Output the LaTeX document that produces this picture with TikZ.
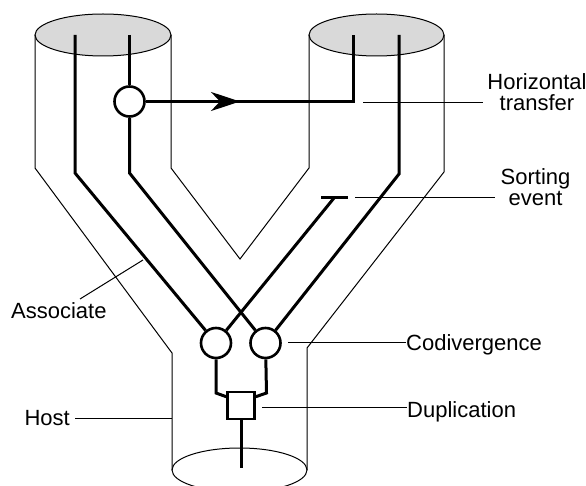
\documentclass[tikz,border=0pt]{standalone}
\usepackage{fontspec}
\setmainfont{Liberation Sans}
\usetikzlibrary{arrows.meta}
\begin{document}
\begin{tikzpicture}[x=1pt,y=-1pt,
  tube/.style={line width=1pt},
  lin/.style={line width=3pt},
  pointer/.style={line width=1pt},
  ev/.style={circle,draw,line width=2.6pt,minimum size=30pt,inner sep=0pt,fill=white},
  dup/.style={rectangle,draw,line width=2.6pt,minimum size=27pt,inner sep=0pt,fill=white},
  lbl/.style={font=\fontsize{22}{21}\selectfont,inner sep=0pt,align=center}]
\useasboundingbox (0,0) rectangle (586,486);
\clip (0,0) rectangle (586,486);
% tubes
\filldraw[tube,fill=gray!30] (103,35) ellipse [x radius=68pt,y radius=21pt];
\filldraw[tube,fill=gray!30] (376.5,35) ellipse [x radius=67.5pt,y radius=21pt];
\draw[tube] (239.5,470) ellipse [x radius=67.5pt,y radius=22pt];
\draw[tube] (35,35) -- (35,168) -- (172,353) -- (172,470);
\draw[tube] (171,35) -- (171,168) -- (240,259) -- (309,168) -- (309,35);
\draw[tube] (444,35) -- (444,172) -- (307,348) -- (307,470);
% event nodes
\node[ev] (ht) at (129.5,101.5) {};
\node[ev] (c1) at (216,343) {};
\node[ev] (c2) at (265.5,343) {};
\node[dup] (d) at (241,405.5) {};
\coordinate (tip) at (240,101.5);
\coordinate (s1) at (321,198);
\coordinate (s2) at (348,198);
\coordinate (sj) at (334,198);
\coordinate (root) at (241,468);
% associate lineages
\draw[lin] (75,35) -- (75,173) -- (c1);
\draw[lin] (129.5,35) -- (ht);
\draw[lin] (ht) -- (129.5,173) -- (c2);
\draw[lin] (ht) -- (353,101.5) -- (353,35);
\draw[lin,-{Stealth[length=29pt,width=19pt,inset=9pt]}] (ht) -- (tip);
\draw[lin] (399,35) -- (399,174) -- (c2);
\draw[lin] (sj) -- (c1);
\draw[lin] (s1) -- (s2);
\draw[lin] (c1) -- (216,393) -- ([yshift=-6pt]d.north west);
\draw[lin] (c2) -- (266.5,393) -- ([yshift=-6pt]d.north east);
\draw[lin] (d) -- (root);
% labels
\node[lbl,anchor=base] (lht) at (537,111) {Horizontal\\transfer};
\node[lbl,anchor=base] (lse) at (535.5,206) {Sorting\\event};
\node[lbl,anchor=base west] (lco) at (406,350) {Codivergence};
\node[lbl,anchor=base west] (ldu) at (407,417) {Duplication};
\node[lbl,anchor=base east] (lho) at (70,425) {Host};
\node[lbl,anchor=base west] (las) at (11,318) {Associate};
\draw[pointer] (363,103) -- (483,103);
\draw[pointer] (355,198) -- (495,198);
\draw[pointer] (288,342) -- (lco.west |- 0,342);
\draw[pointer] (262,407.5) -- (ldu.west |- 0,407.5);
\draw[pointer] (lho.east |- 0,418) ++(5,0) -- (172,418);
\draw[pointer] (80,299) -- (143,260);
\end{tikzpicture}
\end{document}
